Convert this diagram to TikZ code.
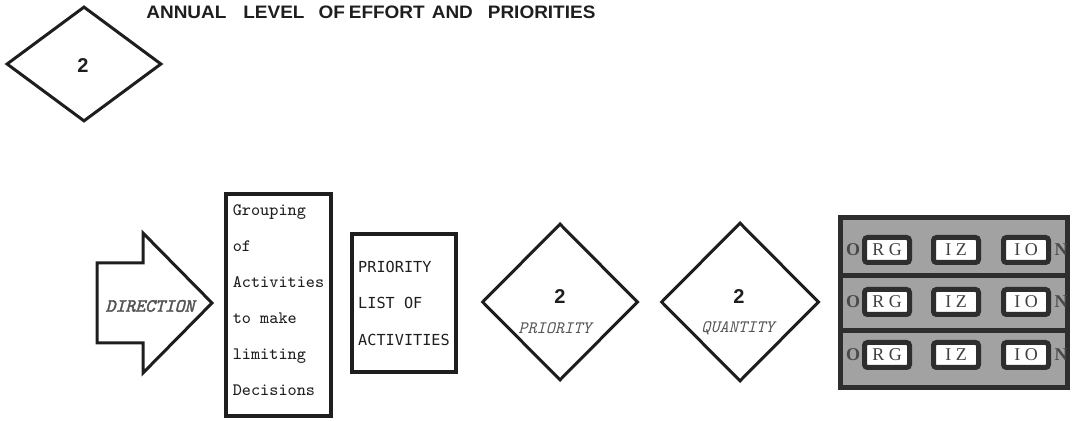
\documentclass[tikz,border=0pt]{standalone}
\usepackage{fontspec}
\usepackage{graphicx}
\usetikzlibrary{shapes.geometric}
\newfontfamily\headfont{Liberation Sans}
\newfontfamily\listfont{DejaVu Sans Mono}
\newfontfamily\tilefont{Liberation Serif}
\newfontfamily\slabfont{lmmono10-italic.otf}[FakeBold=2.2]
\definecolor{ink}{HTML}{1E1E1E}
\definecolor{pencil}{HTML}{555555}
\definecolor{board}{HTML}{A2A2A2}
\definecolor{boardedge}{HTML}{2E2E2E}

\begin{document}
\begin{tikzpicture}[x=0.5pt,y=-0.5pt,
	every node/.style={text=ink},
	dia/.style={draw=ink,line width=1.5pt,shape=diamond,inner sep=0pt},
	box/.style={draw=ink,line width=2pt,align=left},
	num/.style={font=\headfont\bfseries\fontsize{10}{10}\selectfont},
	caption/.style={font=\ttfamily\itshape\fontsize{8.7}{9}\selectfont,text=pencil},
	tile/.style={draw=boardedge,line width=2.5pt,fill=white,rounded corners=1.5pt,
		minimum width=22.5pt,minimum height=12.5pt,inner sep=0pt,
		font=\tilefont\fontsize{9}{9}\selectfont,text=ink!85},
	ghost/.style={font=\tilefont\bfseries\fontsize{9}{9}\selectfont,text=board!45!black}]
		\useasboundingbox (0,0) rectangle (1075,421);

		% heading
		\node at (84,64)[dia,minimum width=77.5pt,minimum height=57.5pt](top){};
		\node at (83,66)[num](topnum){2};
		\node at (146,12)[anchor=west,inner sep=0pt](title){\resizebox{224.5pt}{6.3pt}{\headfont\bfseries
			ANNUAL\hspace{8.9pt}LEVEL\hspace{7.4pt}OF\hspace{2.1pt}EFFORT\hspace{3.7pt}AND\hspace{7.9pt}PRIORITIES}};

		% direction arrow
		\draw[ink,line width=1.5pt,line join=miter](97,263)--(143,263)--(143,233)--(212,303)
			--(143,373)--(143,343)--(97,343)--cycle;
		\node at (150,306)[font=\slabfont\fontsize{9.4}{9}\selectfont,text=pencil](dir){DIRECTION};

		% grouping and priority list
		\node at (278.5,305)[box,minimum width=51.5pt,minimum height=111pt,inner xsep=3.5pt,
			text depth=5.4pt,font=\ttfamily\fontsize{8.7}{18}\selectfont](grp)
			{Grouping\\of\\Activities\\to make\\limiting\\Decisions};
		\node at (404,303)[box,minimum width=52pt,minimum height=69pt,inner xsep=2pt,
			font=\listfont\fontsize{7.6}{18.25}\selectfont](lst)
			{PRIORITY\\LIST OF\\ACTIVITIES};

		% priority and quantity
		\node at (560,302)[dia,minimum width=78pt,minimum height=78.5pt](prio){};
		\node at (560,297)[num](prionum){2};
		\node at (555,328)[caption](priolbl){PRIORITY};
		\node at (740,302)[dia,minimum width=79pt,minimum height=79.5pt](qty){};
		\node at (739,297)[num](qtynum){2};
		\node at (738,328)[caption](qtylbl){QUANTITY};

		% organization board
		\node at (954,302.5)[fill=board,draw=boardedge,line width=2.5pt,minimum width=113.5pt,
			minimum height=85pt,inner sep=0pt](org){};
		\draw[boardedge,line width=2.5pt](840,275.5)--(1068,275.5)(840,330.5)--(1068,330.5);
		\node at (853,250)[ghost](o1){O};
		\node at (853,302)[ghost](o2){O};
		\node at (853,355)[ghost](o3){O};
		\node at (1061,250)[ghost](n1){N};
		\node at (1061,302)[ghost](n2){N};
		\node at (1061,355)[ghost](n3){N};
		\node at (887,250)[tile](rg1){R G};
		\node at (956,250)[tile](iz1){I Z};
		\node at (1026,250)[tile](io1){I O};
		\node at (887,302)[tile](rg2){R G};
		\node at (956,302)[tile](iz2){I Z};
		\node at (1026,302)[tile](io2){I O};
		\node at (887,355)[tile](rg3){R G};
		\node at (956,355)[tile](iz3){I Z};
		\node at (1026,355)[tile](io3){I O};
	\end{tikzpicture}
\end{document}
